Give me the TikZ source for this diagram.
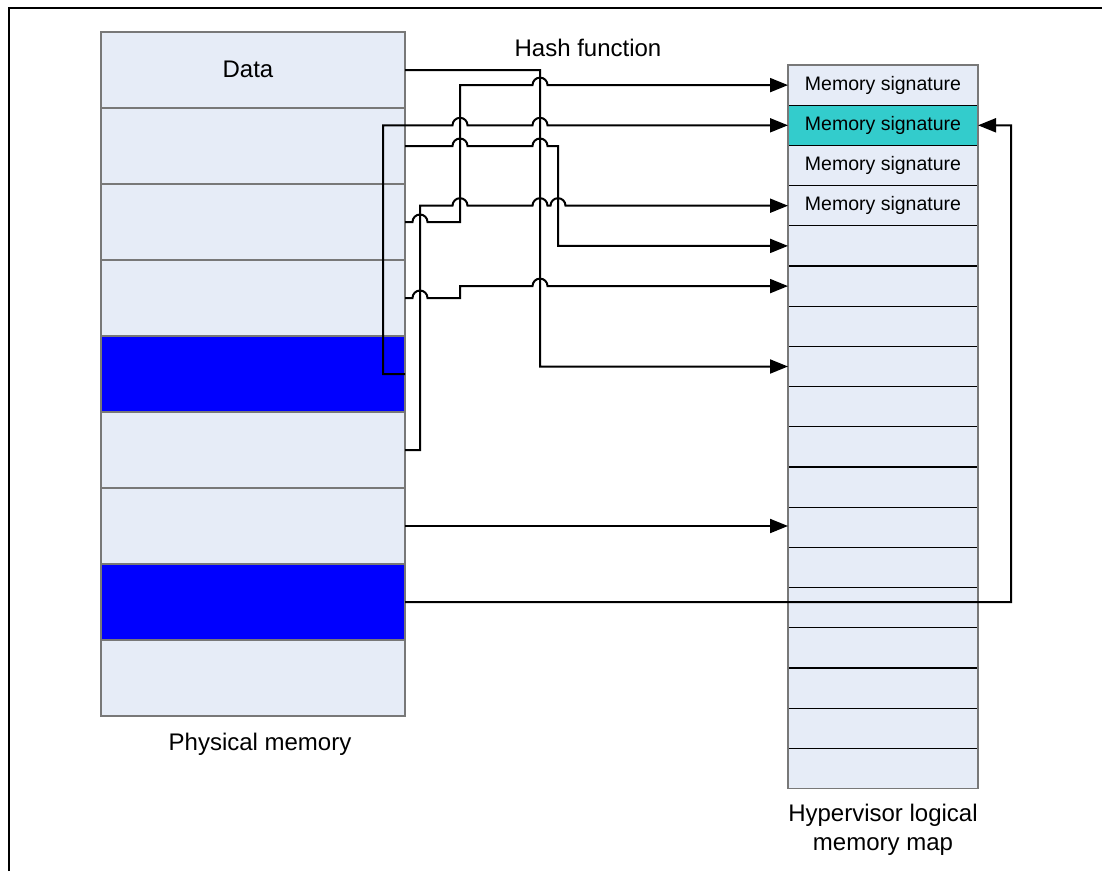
\documentclass[tikz,border=0pt]{standalone}
\usepackage{fontspec}
\setmainfont{Liberation Sans}
\usetikzlibrary{arrows.meta}
\definecolor{cellfill}{RGB}{230,236,247}
\definecolor{sharedcell}{RGB}{51,204,204}
\definecolor{dupcell}{RGB}{0,0,255}
\definecolor{cellline}{RGB}{120,120,120}
\begin{document}
\begin{tikzpicture}[x=1pt,y=-1pt,
  pcell/.style={rectangle, draw=cellline, line width=1.3pt, minimum width=304pt,
    minimum height=76pt, inner sep=0pt, outer sep=0pt},
  hcell/.style={rectangle, draw=black, line width=1.3pt, fill=cellfill, minimum width=190pt,
    minimum height=40.2pt, inner sep=0pt, outer sep=0pt,
    font=\fontsize{19.5}{23}\selectfont},
  lbl/.style={font=\fontsize{24}{29}\selectfont, inner sep=0pt, align=center},
  conn/.style={line width=2pt, line join=miter},
  arr/.style={conn, -{Triangle[length=18pt,width=14pt]}}]
\useasboundingbox (0,0) rectangle (1102,871);

% outer frame (top and left edges)
\draw[line width=1.6pt] (9,871) -- (9,8) -- (1102,8);

% physical memory pages
\foreach \i/\c in {1/cellfill,2/cellfill,3/cellfill,4/cellfill,5/dupcell,6/cellfill,7/cellfill,8/dupcell,9/cellfill}
  \node[pcell, fill=\c] (p\i) at (253,{32+76*(\i-0.5)}) {};
\node[lbl] (data) at (248,69) {Data};
\node[lbl] (physlbl) at (260,744) {Physical memory};

% hypervisor logical memory map
\foreach \i in {1,...,18}
  \node[hcell] (h\i) at (883,{65+40.2*(\i-0.5)}) {};
\node[hcell, fill=sharedcell] (h2) at (883,{65+40.2*1.5}) {};
\foreach \i in {1,2,3,4}
  \node[font=\fontsize{19.5}{23}\selectfont, inner sep=0pt] (sig\i) at (h\i) {Memory signature};
\draw[cellline, line width=1.3pt] (h1.north west) rectangle (h18.south east);
\node[lbl] (hyplbl) at (883,830) {Hypervisor logical\\memory map};

\node[lbl] (hashlbl) at (588,48) {Hash function};

% hash function connectors (with line hops at crossings)
\def\hp{arc[start angle=180,end angle=0,radius=7.5pt]}
\draw[arr] (p1.east) -| (540,366.5) -- (h8.west);
\draw[arr] (p3.east) -- (412.5,222) \hp -- (460,222) -- (460,85.1) -- (532.5,85.1) \hp -- (h1.west);
\draw[arr] (p5.east) -- (383,374) -- (383,125.3) -- (452.5,125.3) \hp -- (532.5,125.3) \hp -- (h2.west);
\draw[arr] (p2.east) -- (452.5,146) \hp -- (532.5,146) \hp -- (558,146) -- (558,245.9) -- (h5.west);
\draw[arr] (p6.east) -- (420,450) -- (420,205.7) -- (452.5,205.7) \hp -- (532.5,205.7) \hp -- (550.5,205.7) \hp -- (h4.west);
\draw[arr] (p4.east) -- (412.5,298) \hp -- (460,298) -- (460,286.1) -- (532.5,286.1) \hp -- (h6.west);
\draw[arr] (p7.east) -- (p7.east -| h12.west);
\draw[arr] (p8.east) -- (1011,602) -- (1011,125.3) -- (h2.east);
\end{tikzpicture}
\end{document}
